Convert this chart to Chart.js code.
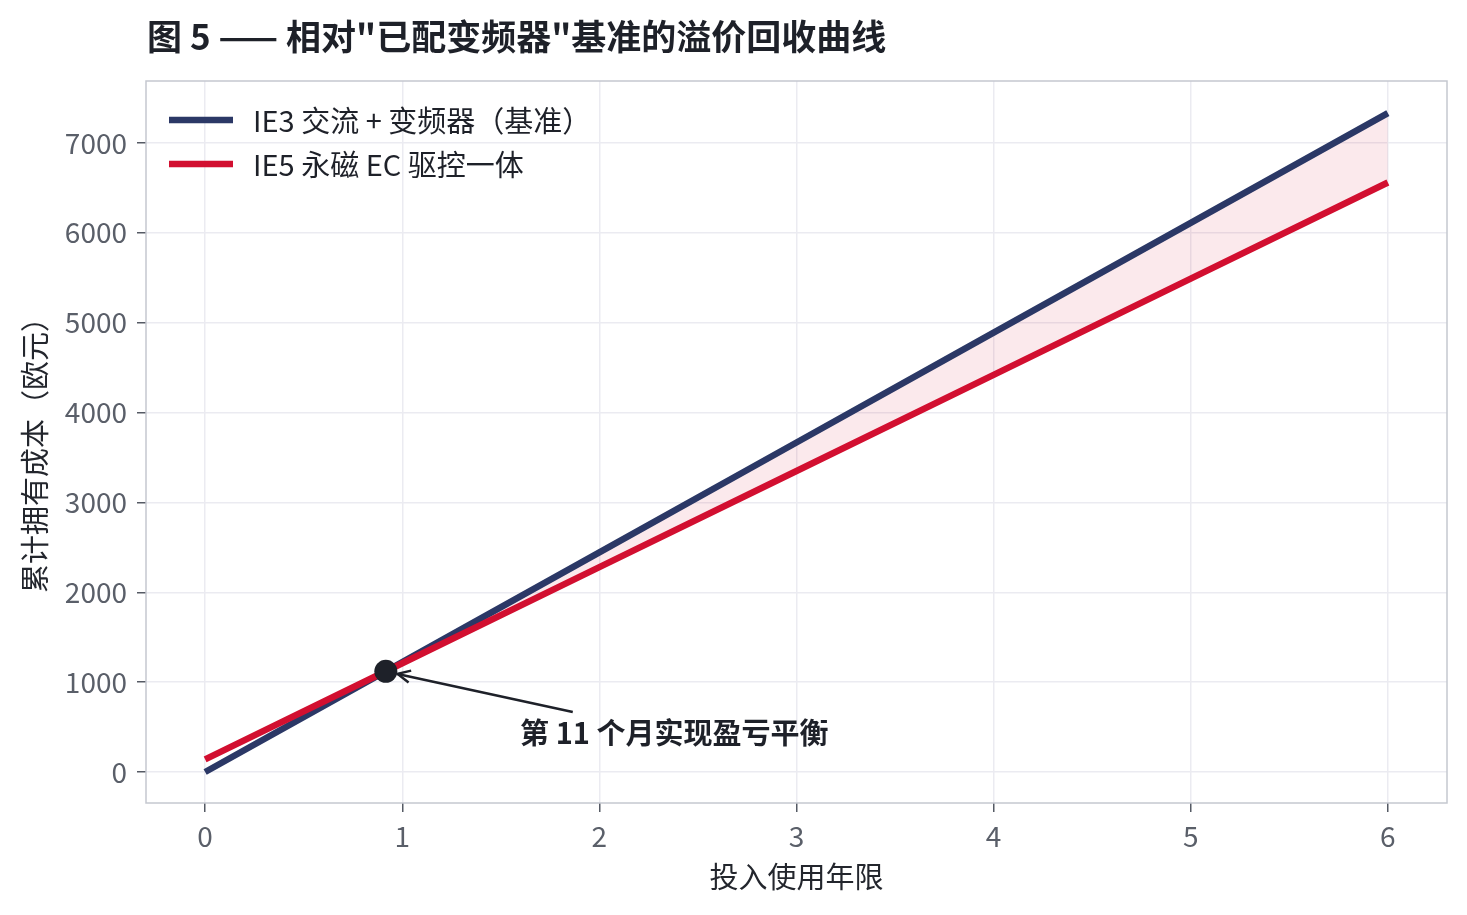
<!DOCTYPE html>
<html><head><meta charset="utf-8">
<script src="https://cdn.jsdelivr.net/npm/chart.js@4.4.1/dist/chart.umd.min.js"></script>
<style>html,body{margin:0;padding:0;background:#fff;}#wrap{width:1467px;height:915px;position:relative;}</style>
</head><body><div id="wrap"><canvas id="c" width="1467" height="915"></canvas></div>
<script>
const TITLE = '图 5 —— 相对"已配变频器"基准的溢价回收曲线';
const X_TITLE = '投入使用年限';
const Y_TITLE = '累计拥有成本（欧元）';
const SERIES_NAMES = ['IE3 交流 + 变频器（基准）', 'IE5 永磁 EC 驱控一体'];
const YEARS = [0, 1, 2, 3, 4, 5, 6];
const BASELINE_COST = [0, 1222, 2444, 3667, 4889, 6111, 7333];
const EC_COST = [140, 1210, 2280, 3350, 4420, 5490, 6560];
const BREAKEVEN = {x: 11/12, y: 1120};
const BREAKEVEN_LABEL = '第 11 个月实现盈亏平衡';
const LABEL_AT = {x: 2.38, y: 434};
const ARROW_TAIL = {x: 1.865, y: 668};
const X_TICKS = [0,1,2,3,4,5,6];
const Y_TICKS = [0,1000,2000,3000,4000,5000,6000,7000];

const FONT = "'Noto Sans CJK SC', 'Noto Sans', sans-serif";
const BLUE = '#2b3866';
const RED = '#d20f30';

const toPts = (xs, ys) => xs.map((x, i) => ({x, y: ys[i]}));

const decor = {
  id: 'decor',
  afterDatasetsDraw(chart) {
    const ctx = chart.ctx, a = chart.chartArea;
    const xs = chart.scales.x, ys = chart.scales.y;
    ctx.save();
    ctx.strokeStyle = '#c5c8cf'; ctx.lineWidth = 1.5;
    ctx.strokeRect(a.left, a.top, a.right - a.left, a.bottom - a.top);
    const px = xs.getPixelForValue(BREAKEVEN.x), py = ys.getPixelForValue(BREAKEVEN.y);
    const tx = xs.getPixelForValue(ARROW_TAIL.x), ty = ys.getPixelForValue(ARROW_TAIL.y);
    const ang = Math.atan2(py - ty, px - tx);
    const hx = px - Math.cos(ang) * 12, hy = py - Math.sin(ang) * 12;
    ctx.strokeStyle = '#1e2129'; ctx.lineWidth = 2.5;
    ctx.beginPath(); ctx.moveTo(tx, ty); ctx.lineTo(hx, hy); ctx.stroke();
    ctx.beginPath();
    ctx.moveTo(hx - Math.cos(ang - 0.45) * 14, hy - Math.sin(ang - 0.45) * 14);
    ctx.lineTo(hx, hy);
    ctx.lineTo(hx - Math.cos(ang + 0.45) * 14, hy - Math.sin(ang + 0.45) * 14);
    ctx.stroke();
    ctx.fillStyle = '#1e2129';
    ctx.font = 'bold 29px ' + FONT;
    ctx.textAlign = 'center'; ctx.textBaseline = 'middle';
    ctx.fillText(BREAKEVEN_LABEL, xs.getPixelForValue(LABEL_AT.x), ys.getPixelForValue(LABEL_AT.y));
    const cols = [BLUE, RED];
    SERIES_NAMES.forEach((n, i) => {
      const y = a.top + 39 + i * 44;
      ctx.strokeStyle = cols[i]; ctx.lineWidth = 6.5; ctx.lineCap = 'butt';
      ctx.beginPath(); ctx.moveTo(a.left + 23, y); ctx.lineTo(a.left + 87, y); ctx.stroke();
      ctx.fillStyle = '#1e2129'; ctx.font = '29px ' + FONT;
      ctx.textAlign = 'left'; ctx.textBaseline = 'middle';
      ctx.fillText(n, a.left + 107, y + 1);
    });
    ctx.restore();
  },
  afterDraw(chart) {
    const ctx = chart.ctx, a = chart.chartArea;
    ctx.save();
    ctx.fillStyle = '#1e2129';
    ctx.font = 'bold 35px ' + FONT;
    ctx.textAlign = 'left'; ctx.textBaseline = 'middle';
    ctx.fillText(TITLE, 147, 37);
    ctx.font = '29px ' + FONT;
    ctx.fillStyle = '#23262d';
    ctx.textAlign = 'center';
    ctx.fillText(X_TITLE, (a.left + a.right) / 2, 877);
    ctx.translate(35, 448);
    ctx.rotate(-Math.PI / 2);
    ctx.fillText(Y_TITLE, 0, 0);
    ctx.restore();
  }
};

new Chart(document.getElementById('c'), {
  type: 'line',
  data: {
    datasets: [
      {label: SERIES_NAMES[0], data: toPts(YEARS, BASELINE_COST), borderColor: BLUE, borderWidth: 6.5,
       pointRadius: 0, tension: 0, fill: {target: 1, above: 'rgba(210,15,48,0.09)', below: 'rgba(0,0,0,0)'}, order: 2},
      {label: SERIES_NAMES[1], data: toPts(YEARS, EC_COST), borderColor: RED, borderWidth: 6.5,
       pointRadius: 0, tension: 0, fill: false, order: 1},
      {label: 'breakeven', type: 'scatter', data: [BREAKEVEN], pointRadius: 11.5, pointBackgroundColor: '#1e2129',
       pointBorderWidth: 0, order: 0}
    ]
  },
  options: {
    responsive: false, animation: false, devicePixelRatio: 1,
    layout: {padding: {top: 81, right: 20, left: 0, bottom: 0}},
    plugins: {legend: {display: false}, tooltip: {enabled: false}, title: {display: false}},
    scales: {
      x: {
        type: 'linear', min: -0.3, max: 6.3,
        afterFit: s => { s.height = 112; },
        afterBuildTicks: s => { s.ticks = X_TICKS.map(v => ({value: v})); },
        grid: {color: '#ebebf1', lineWidth: 1.5, tickLength: 9, tickColor: '#555a64', tickWidth: 1.5},
        border: {display: false},
        ticks: {color: '#5a5f69', font: {family: FONT, size: 28}, padding: 8, maxRotation: 0,
                callback: v => String(v)}
      },
      y: {
        type: 'linear', min: -345, max: 7690,
        afterFit: s => { s.width = 146; },
        afterBuildTicks: s => { s.ticks = Y_TICKS.map(v => ({value: v})); },
        grid: {color: '#ebebf1', lineWidth: 1.5, tickLength: 9, tickColor: '#555a64', tickWidth: 1.5},
        border: {display: false},
        ticks: {color: '#5a5f69', font: {family: FONT, size: 28}, padding: 10, callback: v => String(v)}
      }
    }
  },
  plugins: [decor]
});
</script></body></html>
